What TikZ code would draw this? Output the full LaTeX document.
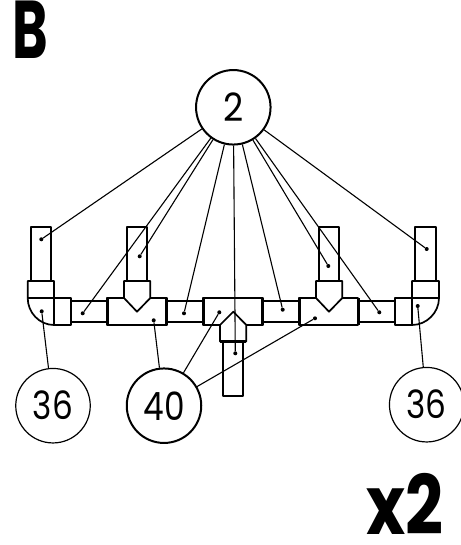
\documentclass[tikz,border=0pt]{standalone}
\usepackage{fontspec}
\setmainfont{Poppins}
\usetikzlibrary{shapes.geometric}

\begin{document}
\begin{tikzpicture}[
    x=1pt, y=-1pt,
    pipe/.style={draw=black, line width=1.7pt, fill=white, line join=round},
    collar/.style={draw=black, line width=2.6pt},
    leader/.style={draw=black, line width=1.1pt},
    dot/.style={circle, fill=black, inner sep=0pt, minimum size=4pt},
    callout/.style={circle, draw=black, line width=1.2pt, minimum size=74.5pt, inner sep=0pt, font=\fontsize{39}{44}\selectfont},
    heavy/.style={callout, line width=2pt},
    title/.style={inner sep=0pt, font=\fontsize{82}{86}\selectfont\bfseries}
]
\useasboundingbox (0,0) rectangle (460,545);

% vertical pipes
\draw[pipe] (30.7,226.7) rectangle (51,281);
\draw[pipe] (127,227.3) rectangle (147,281);
\draw[pipe] (319,227.3) rectangle (339.3,281);
\draw[pipe] (415,226.7) rectangle (435.7,281);
\draw[pipe] (222.7,341.5) rectangle (243.3,395.7);

% horizontal pipes
\draw[pipe] (71.3,301.3) rectangle (107.3,321.7);
\draw[pipe] (166.7,301.3) rectangle (203.3,321.7);
\draw[pipe] (262.7,301.3) rectangle (299.3,321.7);
\draw[pipe] (358.3,301.3) rectangle (395,321.7);

% elbows
\draw[pipe] (27.7,298) -- (27.7,281) -- (54,281) -- (54,325) .. controls (39.4,325) and (27.7,312.6) .. (27.7,298) -- cycle;
\draw[pipe] (27.7,298) -- (54,298);
\draw[pipe] (54,298) rectangle (71.3,325);
\draw[pipe] (439,298) -- (439,281) -- (412,281) -- (412,325) .. controls (426.6,325) and (439,312.6) .. (439,298) -- cycle;
\draw[pipe] (412,298) -- (439,298);
\draw[pipe] (395,298) rectangle (412,325);

% tees
\draw[pipe] (107.3,298) rectangle (166.7,325);
\draw[pipe] (203.3,298) rectangle (262.7,325);
\draw[pipe] (299.3,298) rectangle (358.3,325);
\draw[collar] (107.3,298) -- (107.3,325);
\draw[collar] (166.7,298) -- (166.7,325);
\draw[collar] (203.3,298) -- (203.3,325);
\draw[collar] (262.7,298) -- (262.7,325);
\draw[collar] (299.3,298) -- (299.3,325);
\draw[collar] (358.3,298) -- (358.3,325);

% sockets
\draw[pipe] (124,281) -- (150.3,281) -- (150.3,298) -- (137,311.7) -- (124,298) -- cycle;
\draw[pipe] (316,281) -- (342.3,281) -- (342.3,298) -- (329,311.7) -- (316,298) -- cycle;
\draw[pipe] (220,341.5) -- (246.3,341.5) -- (246.3,325) -- (233.3,311.7) -- (220,325) -- cycle;
\draw[collar] (124,281) -- (150.3,281);
\draw[collar] (316,281) -- (342.3,281);
\draw[collar] (220,341.5) -- (246.3,341.5);

% callouts
\node[heavy] (two) at (233.3,107.3) {\scalebox{.9}[1]{2}};
\node[callout] (elbowL) at (53,405.7) {\scalebox{.84}[1]{36}};
\node[heavy] (forty) at (164,405.7) {\scalebox{.84}[1]{40}};
\node[callout] (elbowR) at (426.7,404.7) {\scalebox{.84}[1]{36}};

% leader ends
\node[dot] (a) at (41.3,239.3) {};
\node[dot] (b) at (82.7,313.3) {};
\node[dot] (c) at (139.7,256.3) {};
\node[dot] (d) at (184,313.3) {};
\node[dot] (e) at (235.3,353.3) {};
\node[dot] (f) at (282.7,309.7) {};
\node[dot] (g) at (328.3,266) {};
\node[dot] (h) at (379.3,312.3) {};
\node[dot] (i) at (426.7,249) {};
\node[dot] (j) at (41.7,311.3) {};
\node[dot] (k) at (417.7,306) {};
\node[dot] (l) at (153.7,320.3) {};
\node[dot] (m) at (219.3,312.3) {};
\node[dot] (n) at (315,318.3) {};

\draw[leader] (two) -- (a);
\draw[leader] (two) -- (b);
\draw[leader] (two) -- (c);
\draw[leader] (two) -- (d);
\draw[leader] (two) -- (e);
\draw[leader] (two) -- (f);
\draw[leader] (two) -- (g);
\draw[leader] (two) -- (h);
\draw[leader] (two) -- (i);
\draw[leader] (elbowL) -- (j);
\draw[leader] (elbowR) -- (k);
\draw[leader] (forty) -- (l);
\draw[leader] (forty) -- (m);
\draw[leader] (forty) -- (n);

% titles
\node[title, anchor=south west] (panel) at (12,59) {\scalebox{.66}[1]{B}};
\node[title, anchor=south east] (count) at (444,535) {\scalebox{.81}[1]{x2}};
\end{tikzpicture}
\end{document}
